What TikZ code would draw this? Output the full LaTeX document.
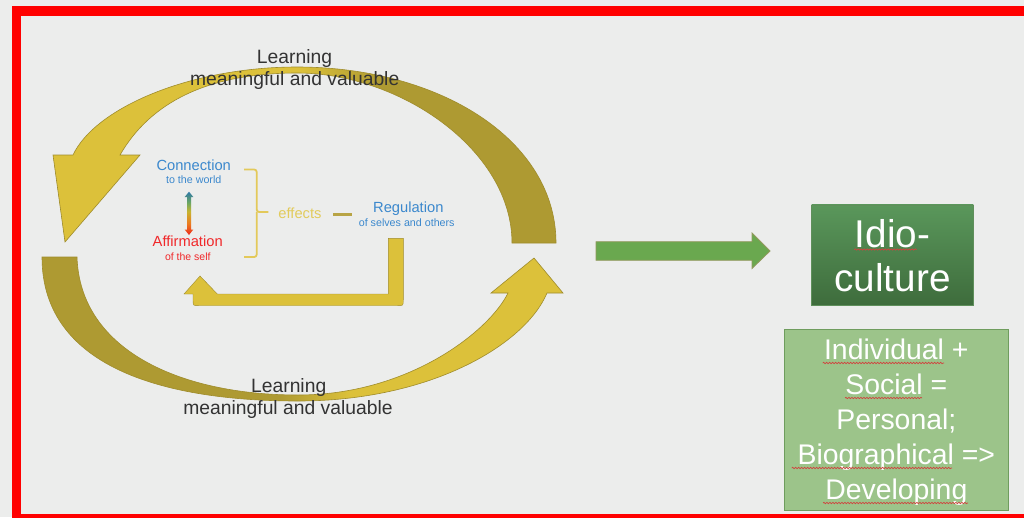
\documentclass[tikz,border=0pt]{standalone}
\usepackage{fontspec}
\setmainfont{Liberation Sans}
\usetikzlibrary{decorations.pathmorphing}
\definecolor{bg}{HTML}{ECEDEC}
\definecolor{yel}{HTML}{DCC13A}
\definecolor{oli}{HTML}{AE9A32}
\definecolor{arcedge}{HTML}{9F8C2C}
\definecolor{bluet}{HTML}{3B88CD}
\definecolor{redt}{HTML}{F0282A}
\definecolor{efft}{HTML}{E2CB5C}
\definecolor{brk}{HTML}{E3C95A}
\definecolor{dashc}{HTML}{B8A445}
\definecolor{garrow}{HTML}{6AA84F}
\definecolor{garrowedge}{HTML}{93995E}
\definecolor{idiotop}{HTML}{5A975B}
\definecolor{idiobot}{HTML}{3E6C3C}
\definecolor{idioedge}{HTML}{5F8F5B}
\definecolor{infofill}{HTML}{9CC48A}
\definecolor{infoedge}{HTML}{6F9D5E}
\definecolor{lblc}{HTML}{333333}
\definecolor{wavy}{HTML}{D0433F}
\definecolor{arBlue}{HTML}{2C78A8}
\definecolor{arGreen}{HTML}{6FA860}
\definecolor{arYel}{HTML}{C8B430}
\definecolor{arOrange}{HTML}{EC7A20}
\definecolor{arRed}{HTML}{EC2A1C}
\pgfdeclareverticalshading{affconn}{100bp}{color(0bp)=(arRed); color(25bp)=(arRed); color(38bp)=(arOrange); color(52bp)=(arYel); color(62bp)=(arGreen); color(75bp)=(arBlue); color(100bp)=(arBlue)}
\tikzset{
  txt/.style={inner sep=0pt, anchor=base},
  learnlbl/.style={txt, text=lblc, font=\fontsize{19.3}{22}\selectfont},
  bigblue/.style={txt, text=bluet, font=\fontsize{14.7}{17}\selectfont},
  smallblue/.style={txt, text=bluet, font=\fontsize{10.7}{12}\selectfont},
  bigred/.style={txt, text=redt, font=\fontsize{14.7}{17}\selectfont},
  smallred/.style={txt, text=redt, font=\fontsize{10.5}{12}\selectfont},
  efflbl/.style={txt, text=efft, font=\fontsize{14.7}{17}\selectfont},
  arcline/.style={draw=arcedge, line width=0.6},
  spell/.style={draw=wavy, line width=0.7, decorate, decoration={snake, amplitude=0.7, segment length=3}},
}
\def\toparc{(556,243) .. controls (556,140) and (440,67) .. (297,67) .. controls (190,67) and (95,108) .. (73,155) -- (53,155) -- (65,242) -- (140,155) -- (120,155) .. controls (150,103) and (207,73) .. (297,73) .. controls (400,73) and (512,150) .. (512,243) -- cycle}
\def\botarc{(42,257) .. controls (42,370) and (170,401) .. (298,401) .. controls (430,401) and (525,345) .. (547,293) -- (563,293) -- (534,258) -- (491,293) -- (508,293) .. controls (490,330) and (410,395) .. (298,395) .. controls (180,395) and (80,350) .. (77,257) -- cycle}
\def\dblarrow{(189,191.7) -- (193.3,197) -- (191,197) -- (191,229.5) -- (193.3,229.5) -- (189,235) -- (184.7,229.5) -- (187,229.5) -- (187,197) -- (184.7,197) -- cycle}
\begin{document}
\begin{tikzpicture}[x=1pt,y=-1pt]
\useasboundingbox (0,0) rectangle (1024,517);
\clip (0,0) rectangle (1024,517);
\fill[bg] (0,0) rectangle (1024,517);
\draw[red, line width=9.5] (16.5,11) rectangle (1040,519);

% top circular arrow
\begin{scope}
  \clip \toparc;
  \fill[yel] (0,0) rectangle (300,517);
  \shade[left color=yel, right color=oli] (299.5,0) rectangle (380.5,517);
  \fill[oli] (380,0) rectangle (600,517);
\end{scope}
\draw[arcline] \toparc;

% bottom circular arrow
\begin{scope}
  \clip \botarc;
  \fill[oli] (0,0) rectangle (280,517);
  \shade[left color=oli, right color=yel] (279.5,0) rectangle (350.5,517);
  \fill[yel] (350,0) rectangle (600,517);
\end{scope}
\draw[arcline] \botarc;

% labels on the arcs
\node[learnlbl] (learnT) at (294.5,63.5) {Learning};
\node[learnlbl] (mvT) at (294.7,85.5) {meaningful and valuable};
\node[learnlbl] (learnB) at (288.7,392.3) {Learning};
\node[learnlbl] (mvB) at (288,414) {meaningful and valuable};

% inner elements
\node[bigblue] (conn) at (193.7,170.3) {Connection};
\node[smallblue] (conn2) at (193.7,183.3) {to the world};
\shade[shading=affconn] \dblarrow;
\node[bigred] (aff) at (187.7,246.7) {Affirmation};
\node[smallred] (aff2) at (187.8,260.7) {of the self};

\draw[brk, line width=1.8, rounded corners=2.5] (244,169.5) -- (256.7,169.5) -- (256.7,212) -- (268.3,212);
\draw[brk, line width=1.8, rounded corners=2.5] (244,257) -- (256.7,257) -- (256.7,212);
\node[efflbl] (eff) at (300,218.3) {effects};
\draw[dashc, line width=2.3] (333.3,214.5) -- (351.7,214.5);
\node[bigblue] (reg) at (408.3,212.5) {Regulation};
\node[smallblue] (reg2) at (406.7,226) {of selves and others};

% bent return arrow
\filldraw[fill=yel, draw=arcedge, line width=0.4] (388.3,238.3) -- (403.3,238.3) -- (403.3,299.7) .. controls (403.3,305.7) .. (397.3,305.7) -- (199,305.7) .. controls (193,305.7) .. (193,299.7) -- (193,294) -- (184,294) -- (200,276) -- (217.3,294) -- (388.3,294) -- cycle;

% green block arrow
\filldraw[fill=garrow, draw=garrowedge, line width=0.8] (596,241.7) -- (752,241.7) -- (752,233) -- (770,251) -- (752,268.5) -- (752,260.3) -- (596,260.3) -- cycle;

% idioculture box
\node[rectangle, minimum width=161.6pt, minimum height=100.7pt, top color=idiotop, bottom color=idiobot, draw=idioedge, line width=0.8, text=white, align=center, inner sep=0pt, font=\fontsize{38.7}{44}\selectfont] (idio) at (892.5,255.3) {Idio-\\culture};
\path[spell] (854.3,249.5) -- (916.7,249.5);

% info box
\node[rectangle, minimum width=224pt, minimum height=181.4pt, fill=infofill, draw=infoedge, line width=1, inner sep=0pt] (info) at (896.3,420) {};
\node[text=white, align=center, inner sep=0pt, font=\fontsize{28.4}{35}\selectfont] (infotext) at (896.3,422.5) {Individual +\\Social =\\Personal;\\Biographical =>\\Developing};
\path[spell] (822.7,363) -- (944,363);
\path[spell] (845,398) -- (922,398);
\path[spell] (791.7,468) -- (952,468);
\path[spell] (823,503) -- (968,503);
\end{tikzpicture}
\end{document}
